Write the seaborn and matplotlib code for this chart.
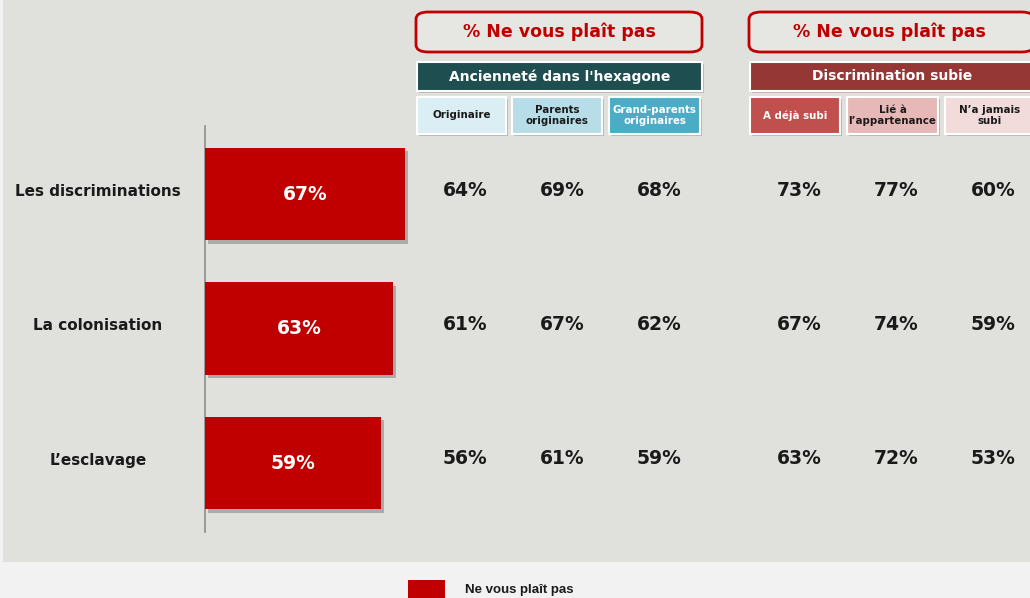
import pandas as pd
import numpy as np
import matplotlib.pyplot as plt
import matplotlib.patheffects as pe
from matplotlib.patches import Rectangle, FancyBboxPatch
from matplotlib.transforms import blended_transform_factory
import seaborn as sns

# data
themes = ["Les discriminations", "La colonisation", "L’esclavage"]
overall = [67, 63, 59]
originaire = [64, 61, 56]
parents = [69, 67, 61]
grands_parents = [68, 62, 59]
deja_subi = [73, 67, 63]
lie_appartenance = [77, 74, 72]
jamais_subi = [60, 59, 53]
sub_labels = ["Originaire", "Parents\noriginaires", "Grand-parents\noriginaires",
              "A déjà subi", "Lié à\nl’appartenance", "N’a jamais\nsubi"]
group_titles = ["Ancienneté dans l'hexagone", "Discrimination subie"]
header = "% Ne vous plaît pas"
legend_label = "Ne vous plaît pas"

W, H = 1030, 598
BG = "#E0E0DC"
RED = "#C00000"

sns.set_theme(style="white")
plt.rcParams["font.family"] = ["DejaVu Sans"]

def fx(x):
    return x / W

def fy(y):
    return 1 - y / H

fig = plt.figure(figsize=(W / 100, H / 100), dpi=100, facecolor=BG)

# bottom lighter strip and thin left strip
fig.patches.append(Rectangle((0, 0), 1, fy(562), transform=fig.transFigure,
                             facecolor="#F2F2F2", edgecolor="none", zorder=0))
fig.patches.append(Rectangle((0, 0), fx(3), 1, transform=fig.transFigure,
                             facecolor="#F2F2F2", edgecolor="none", zorder=0))

# bar axis
ax = fig.add_axes([fx(205), fy(532), fx(300), (532 - 126) / H])
ax.set_facecolor("none")
df = pd.DataFrame({"theme": themes, "value": overall})
sns.barplot(data=df, x="value", y="theme", orient="h", color=RED,
            saturation=1, width=0.685, linewidth=0, ax=ax, zorder=3)
for p in ax.patches:
    p.set_edgecolor("none")
    p.set_path_effects([pe.SimplePatchShadow(offset=(2.5, -2.5), shadow_rgbFace="#888884",
                                             alpha=0.6), pe.Normal()])
ax.set_xlim(0, 100.7)
ax.set_ylim(2.513, -0.506)
for s in ["top", "right", "bottom"]:
    ax.spines[s].set_visible(False)
ax.spines["left"].set_color("#8C8C8C")
ax.spines["left"].set_linewidth(1.2)
ax.set_xticks([])
ax.set_yticks([])
ax.set_xlabel("")
ax.set_ylabel("")

for i, v in enumerate(overall):
    ax.text(v / 2, i, f"{v}%", ha="center", va="center", color="white",
            fontsize=13.5, fontweight="bold")

trans = blended_transform_factory(fig.transFigure, ax.transData)
for i, t in enumerate(themes):
    ax.text(fx(98), i - 0.02, t, transform=trans, ha="center", va="center",
            fontsize=11, fontweight="bold", color="#1A1A1A")

cols = [originaire, parents, grands_parents, deja_subi, lie_appartenance, jamais_subi]
col_x = [465, 562, 659, 799, 896, 993]
for vals, cx in zip(cols, col_x):
    for i, v in enumerate(vals):
        ax.text(fx(cx), i - 0.03, f"{v}%", transform=trans, ha="center",
                va="center", fontsize=13.5, fontweight="bold", color="#1A1A1A",
                clip_on=False)

# header boxes
for x0, x1 in [(416, 702), (749, 1034)]:
    fig.patches.append(FancyBboxPatch((fx(x0), fy(52)), fx(x1 - x0), (52 - 12) / H,
                                      boxstyle="round,pad=0,rounding_size=0.012",
                                      transform=fig.transFigure, facecolor="#E6E6E2",
                                      edgecolor=RED, linewidth=2, zorder=1))
    fig.text(fx((x0 + min(x1, 1030)) / 2), fy(32), header, ha="center", va="center",
             fontsize=12.5, fontweight="bold", color=RED)

def cell(x0, x1, y0, y1, face, text, tcolor, size, lh=1.0):
    fig.patches.append(Rectangle((fx(x0 + 2), fy(y1 + 2)), fx(x1 - x0), (y1 - y0) / H,
                                 transform=fig.transFigure, facecolor="#B8B8B4",
                                 edgecolor="none", zorder=1))
    fig.patches.append(Rectangle((fx(x0), fy(y1)), fx(x1 - x0), (y1 - y0) / H,
                                 transform=fig.transFigure, facecolor=face,
                                 edgecolor="white", linewidth=1.5, zorder=2))
    fig.text(fx((x0 + x1) / 2), fy((y0 + y1) / 2), text, ha="center", va="center",
             fontsize=size, fontweight="bold", color=tcolor, linespacing=lh, zorder=3)

cell(417, 702, 62, 91, "#1F4E50", group_titles[0], "white", 10)
cell(750, 1034, 62, 91, "#953735", group_titles[1], "white", 10)

sub_boxes = [(417, 506), (512, 602), (609, 700), (750, 840), (847, 938), (945, 1034)]
sub_faces = ["#DAEEF3", "#B7DEE8", "#4BACC6", "#C0504D", "#E6B9B8", "#F2DCDB"]
sub_text = ["#1A1A1A", "#1A1A1A", "white", "white", "#1A1A1A", "#1A1A1A"]
for (x0, x1), face, lab, tc in zip(sub_boxes, sub_faces, sub_labels, sub_text):
    cell(x0, x1, 97, 134, face, lab, tc, 7.4, lh=1.1)

# legend
fig.patches.append(Rectangle((fx(408), 0), fx(37), fy(580), transform=fig.transFigure,
                             facecolor=RED, edgecolor="none", zorder=2))
fig.text(fx(465), fy(590), legend_label, ha="left", va="center", fontsize=9.5,
         family="Liberation Sans", fontweight="bold", color="#1A1A1A")

fig.savefig("out.png", dpi=100, facecolor=BG)
